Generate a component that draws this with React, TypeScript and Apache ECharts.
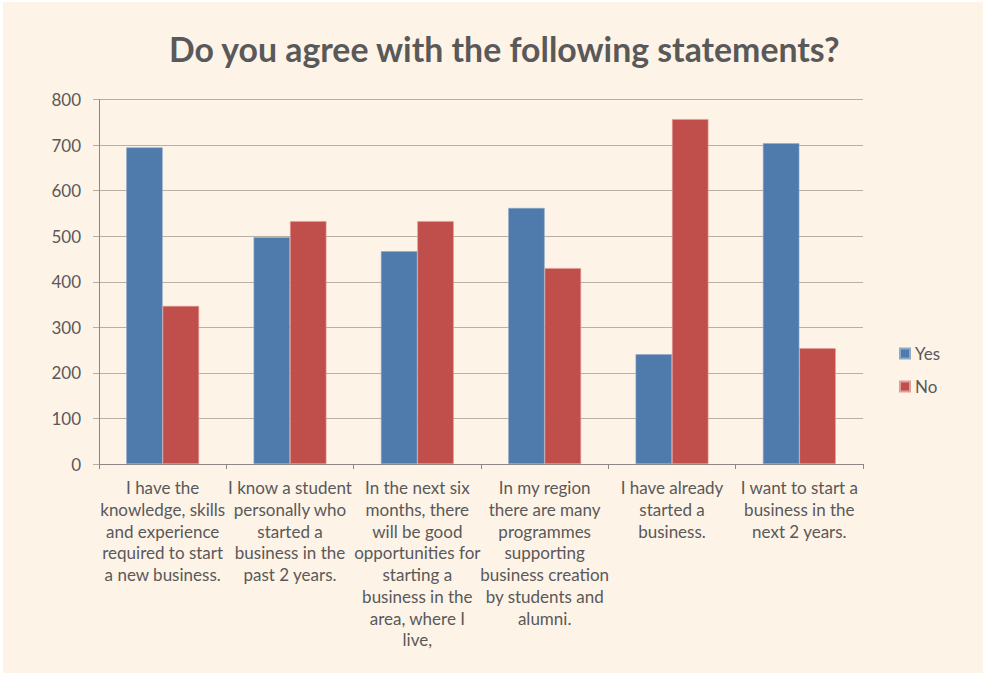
import React, { useEffect, useRef } from "react";
import * as echarts from "echarts";

const TITLE = "Do you agree with the following statements?";
const categories = [
  "I have the\nknowledge, skills\nand experience\nrequired to start\na new business.",
  "I know a student\npersonally who\nstarted a\nbusiness in the\npast 2 years.",
  "In the next six\nmonths, there\nwill be good\nopportunities for\nstarting a\nbusiness in the\narea, where I\nlive,",
  "In my region\nthere are many\nprogrammes\nsupporting\nbusiness creation\nby students and\nalumni.",
  "I have already\nstarted a\nbusiness.",
  "I want to start a\nbusiness in the\nnext 2 years.",
];
const yesValues = [695, 498, 467, 562, 241, 704];
const noValues = [347, 533, 533, 430, 757, 254];
const seriesNames = ["Yes", "No"];

const FONT = "Lato";
const TEXT = "#595959";

export default function App() {
  const ref = useRef<HTMLDivElement>(null);
  useEffect(() => {
    if (!ref.current) return;
    const chart = echarts.init(ref.current, null, { renderer: "svg" });
    chart.setOption({
      animation: false,
      backgroundColor: "#ffffff",
      graphic: [
        {
          type: "rect",
          z: -10,
          silent: true,
          shape: { x: 3, y: 2, width: 980, height: 671 },
          style: { fill: "#fef3e7" },
        },
      ],
      title: {
        text: TITLE,
        left: 164,
        top: 27,
        textStyle: { fontFamily: FONT, fontWeight: "bold", fontSize: 33.8, color: TEXT },
      },
      legend: {
        orient: "vertical",
        left: 894,
        top: 340,
        icon: "rect",
        itemWidth: 10,
        itemHeight: 10,
        itemGap: 16,
        data: seriesNames,
        textStyle: { fontFamily: FONT, fontSize: 17, color: TEXT },
      },
      grid: { left: 99, right: 122, top: 99.5, bottom: 210, containLabel: false },
      xAxis: {
        type: "category",
        data: categories,
        axisLine: { lineStyle: { color: "#8c8782", width: 1 } },
        axisTick: { show: true, length: 5, lineStyle: { color: "#8c8782" } },
        axisLabel: {
          interval: 0,
          margin: 13,
          fontFamily: FONT,
          fontSize: 17,
          lineHeight: 21.7,
          color: TEXT,
          align: "center",
        },
      },
      yAxis: {
        type: "value",
        min: 0,
        max: 800,
        interval: 100,
        axisLine: { show: true, lineStyle: { color: "#8c8782", width: 1 } },
        axisTick: { show: true, length: 6, lineStyle: { color: "#b9b0a5" } },
        splitLine: { lineStyle: { color: "#b9b0a5", width: 1 } },
        axisLabel: { margin: 18, fontFamily: FONT, fontSize: 17, color: TEXT },
      },
      series: [
        {
          name: seriesNames[0],
          type: "bar",
          data: yesValues,
          barWidth: "28.6%",
          barGap: "0%",
          itemStyle: { color: "#4e7bac", borderColor: "#8eaacb", borderWidth: 0.6 },
        },
        {
          name: seriesNames[1],
          type: "bar",
          data: noValues,
          barWidth: "28.6%",
          barGap: "0%",
          itemStyle: { color: "#c04e4a", borderColor: "#e0a09a", borderWidth: 0.6 },
        },
      ],
    });
    return () => chart.dispose();
  }, []);
  return (
    <div
      ref={ref}
      style={{ position: "fixed", left: 0, top: 0, width: 985, height: 674 }}
    />
  );
}
